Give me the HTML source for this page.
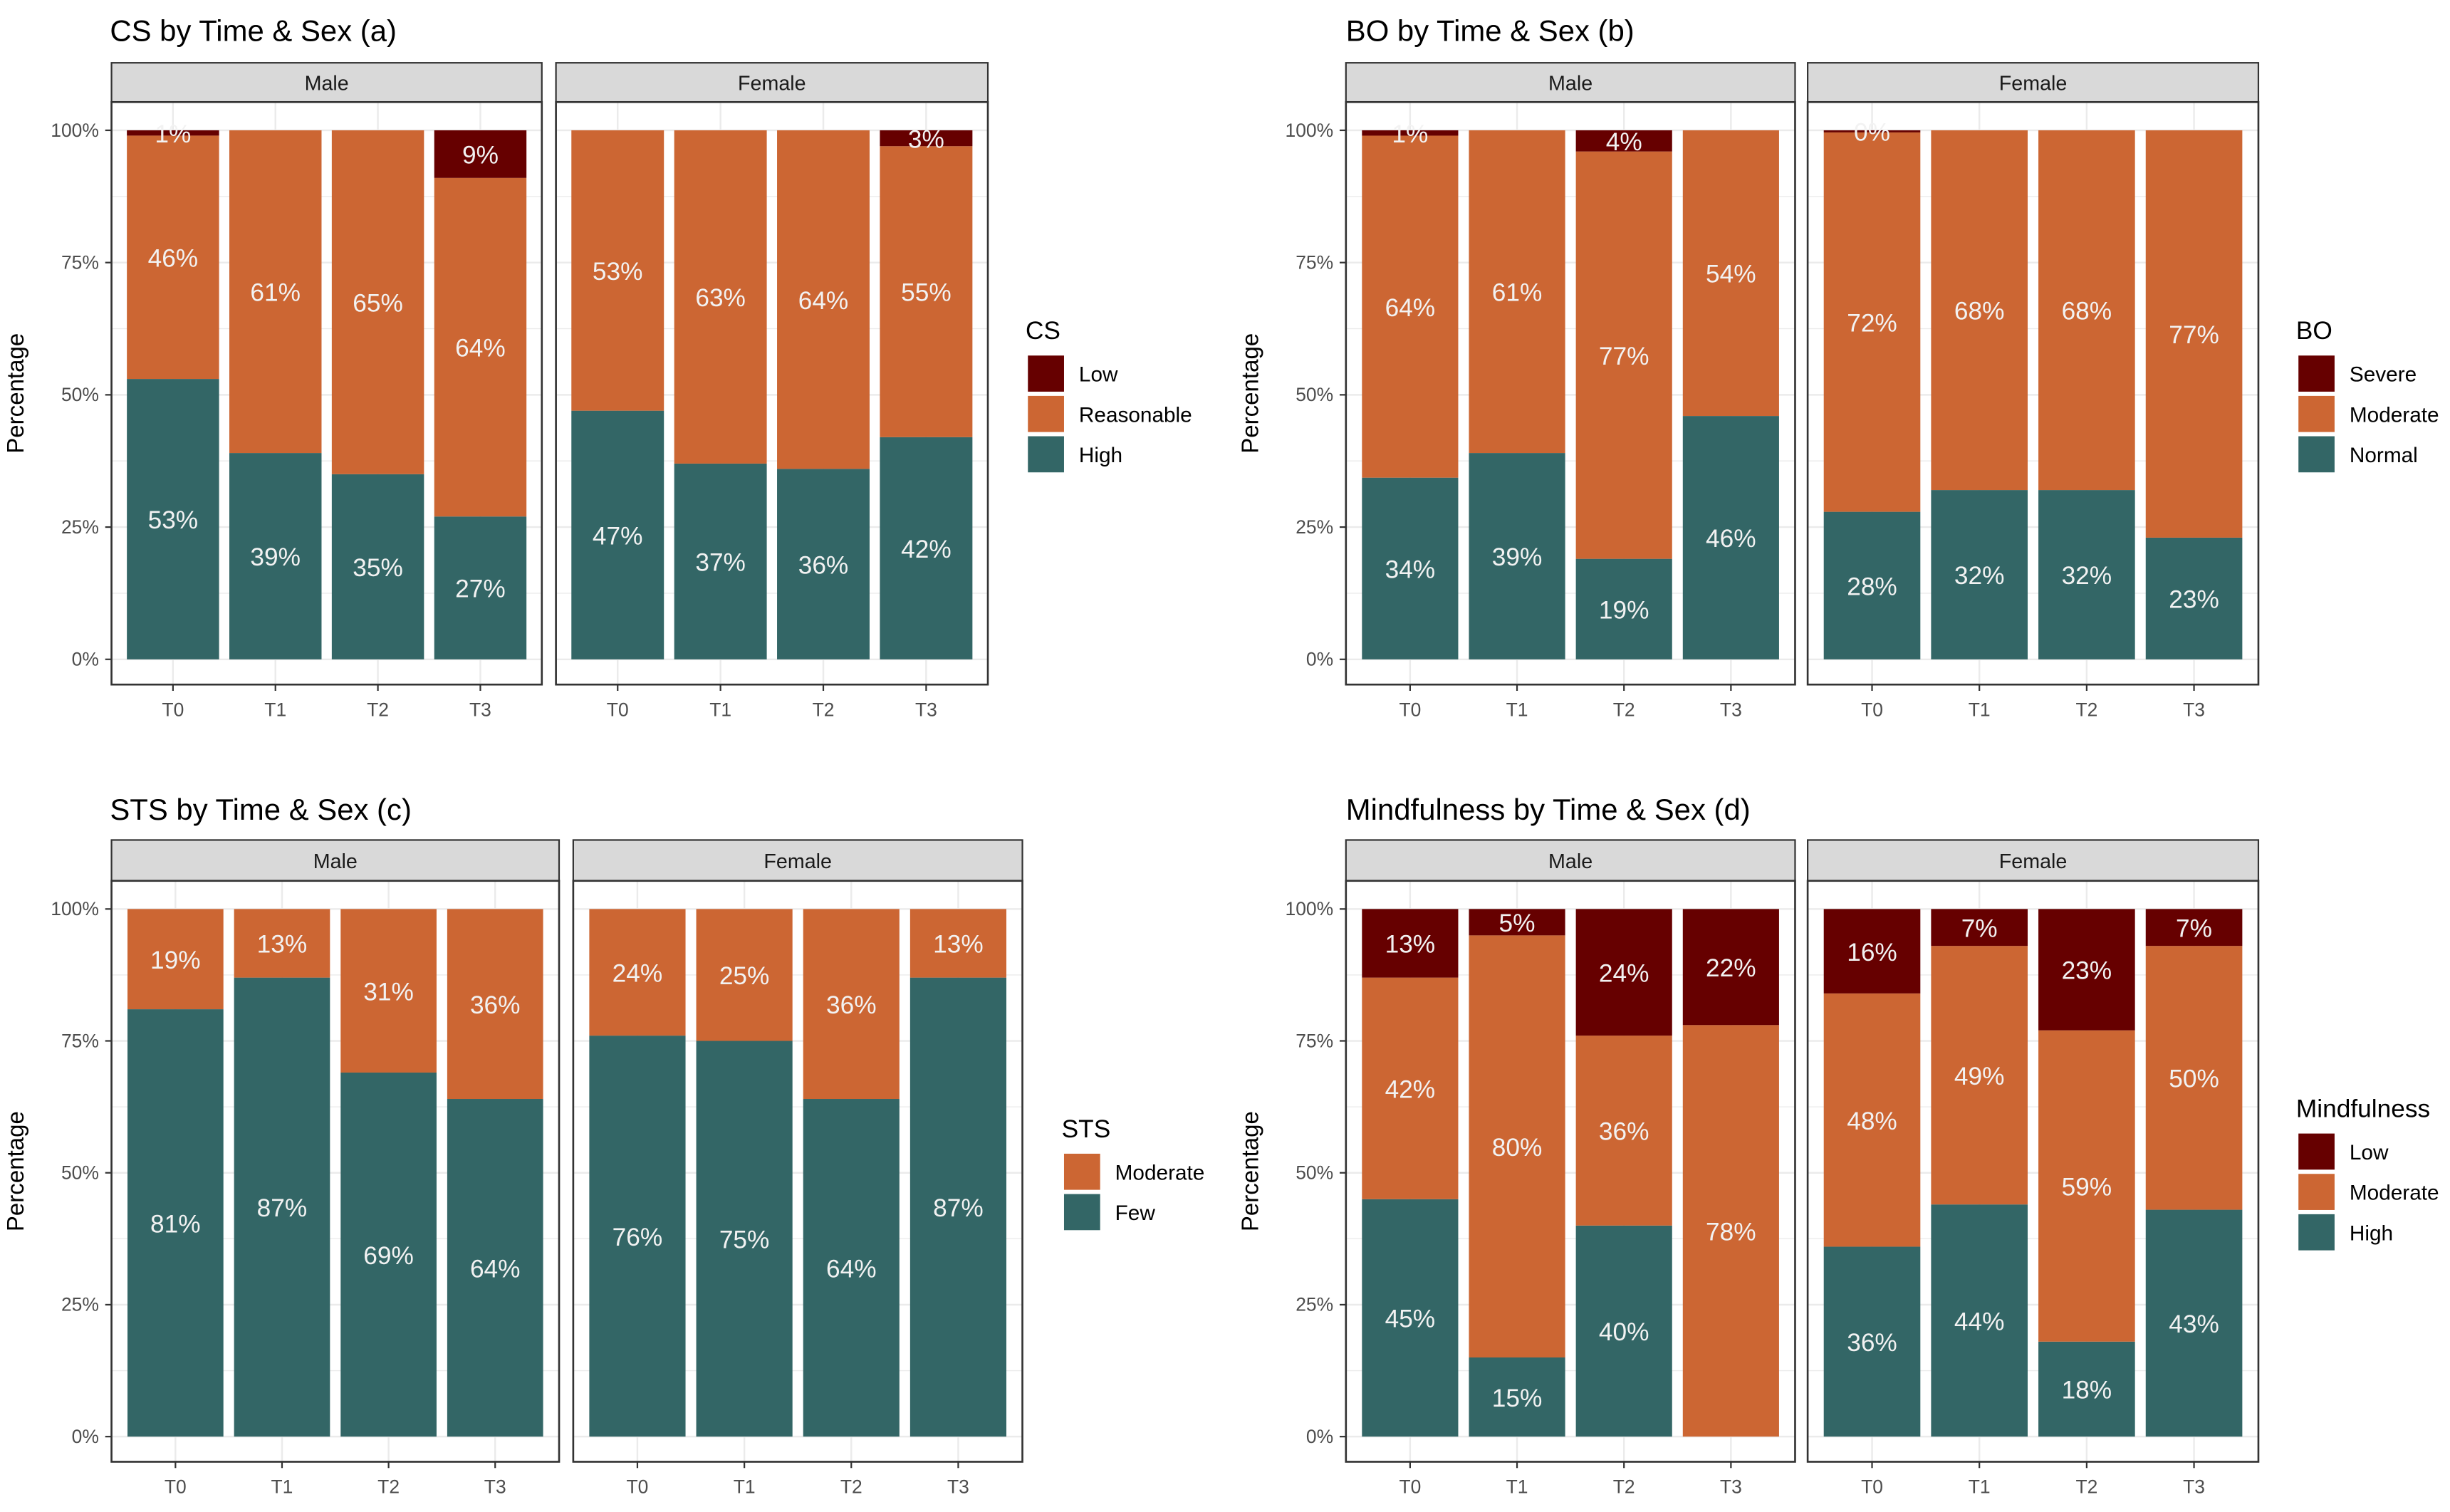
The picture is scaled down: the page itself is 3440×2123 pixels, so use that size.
<!DOCTYPE html>
<html><head><meta charset="utf-8">
<style>
html,body{margin:0;padding:0;background:#fff;}
svg{display:block;font-family:"Liberation Sans Narrow","Liberation Sans",sans-serif;}
</style></head>
<body>
<svg id="chart" width="3440" height="2123" viewBox="0 0 1560 963" preserveAspectRatio="none" xmlns="http://www.w3.org/2000/svg"></svg>
<script>
const categories = ["T0","T1","T2","T3"];
const sexes = ["Male","Female"];
const yTicks = [0,25,50,75,100];
const yTickLabels = ["0%","25%","50%","75%","100%"];
// Panel (a) CS
const csHighMale = [53,39,35,27];
const csReasMale = [46,61,65,64];
const csLowMale = [1,0,0,9];
const csHighFemale = [47,37,36,42];
const csReasFemale = [53,63,64,55];
const csLowFemale = [0,0,0,3];
// Panel (b) BO
const boNormalMale = [34,39,19,46];
const boModMale = [64,61,77,54];
const boSevereMale = [1,0,4,0];
const boNormalFemale = [28,32,32,23];
const boModFemale = [72,68,68,77];
const boSevereFemale = [0.4,0,0,0];
// Panel (c) STS
const stsFewMale = [81,87,69,64];
const stsModMale = [19,13,31,36];
const stsFewFemale = [76,75,64,87];
const stsModFemale = [24,25,36,13];
// Panel (d) Mindfulness
const mfHighMale = [45,15,40,0];
const mfModMale = [42,80,36,78];
const mfLowMale = [13,5,24,22];
const mfHighFemale = [36,44,18,43];
const mfModFemale = [48,49,59,50];
const mfLowFemale = [16,7,23,7];

const C_LOW="#660000", C_MID="#CC6633", C_HIGH="#336666";
const NS="http://www.w3.org/2000/svg";
const svg=document.getElementById('chart');
function mk(tag,attrs,parent,text){
  const e=document.createElementNS(NS,tag);
  for(const k in attrs)e.setAttribute(k,attrs[k]);
  if(text!==undefined)e.textContent=text;
  (parent||svg).appendChild(e);return e;
}

const panels=[
 {id:"cs",title:"CS by Time & Sex (a)",tx:70,ty:26,facets:[[71,345],[354,629]],strip:[40,65],plot:[65,436],yl:15,legX:653,legTitle:"CS",
  series:[{name:"High",col:C_HIGH,data:[csHighMale,csHighFemale]},{name:"Reasonable",col:C_MID,data:[csReasMale,csReasFemale]},{name:"Low",col:C_LOW,data:[csLowMale,csLowFemale]}]},
 {id:"bo",title:"BO by Time & Sex (b)",tx:857,ty:26,facets:[[857,1143],[1151,1438]],strip:[40,65],plot:[65,436],yl:801,legX:1462,legTitle:"BO",
  series:[{name:"Normal",col:C_HIGH,data:[boNormalMale,boNormalFemale]},{name:"Moderate",col:C_MID,data:[boModMale,boModFemale]},{name:"Severe",col:C_LOW,data:[boSevereMale,boSevereFemale]}]},
 {id:"sts",title:"STS by Time & Sex (c)",tx:70,ty:522,facets:[[71,356],[365,651]],strip:[535,561],plot:[561,931],yl:15,legX:676,legTitle:"STS",
  series:[{name:"Few",col:C_HIGH,data:[stsFewMale,stsFewFemale]},{name:"Moderate",col:C_MID,data:[stsModMale,stsModFemale]}]},
 {id:"mf",title:"Mindfulness by Time & Sex (d)",tx:857,ty:522,facets:[[857,1143],[1151,1438]],strip:[535,561],plot:[561,931],yl:801,legX:1462,legTitle:"Mindfulness",
  series:[{name:"High",col:C_HIGH,data:[mfHighMale,mfHighFemale]},{name:"Moderate",col:C_MID,data:[mfModMale,mfModFemale]},{name:"Low",col:C_LOW,data:[mfLowMale,mfLowFemale]}]}
];

panels.forEach(p=>{
  const g=mk('g',{});
  
  
  const t=mk('text',{x:p.tx,y:p.ty,'font-size':19,fill:'#000'},g,p.title);
  
  
  const top=p.plot[0],bot=p.plot[1];
  const span=bot-top;
  const y0=bot-span*0.0433, y100=top+span*0.0485;
  const yScale=v=>y0-(y0-y100)*v/100;
  const cy=(top+bot)/2;
  const yt=mk('text',{x:p.yl,y:cy,'font-size':15,'text-anchor':'middle',transform:`rotate(-90 ${p.yl} ${cy})`,fill:'#000','font-family':'Liberation Sans, sans-serif'},g,'Percentage');
  
  
  const fx0=p.facets[0][0];
  yTicks.forEach((v,i)=>{
    const tl=mk('text',{x:fx0-8,y:yScale(v)+4,'font-size':12,'text-anchor':'end',fill:'#4d4d4d'},g,yTickLabels[i]);
    
    
    mk('line',{x1:fx0-4,x2:fx0,y1:yScale(v),y2:yScale(v),stroke:'#333','stroke-width':1},g);
  });
  p.facets.forEach((f,fi)=>{
    const [L,R]=f;
    const W=R-L, unit=W/4.2;
    const s=mk('rect',{x:L,y:p.strip[0],width:W,height:p.strip[1]-p.strip[0],fill:'#d9d9d9',stroke:'#333','stroke-width':1},g);
    
    
    mk('text',{x:(L+R)/2,y:(p.strip[0]+p.strip[1])/2+5,'font-size':13,'text-anchor':'middle',fill:'#1a1a1a'},g,sexes[fi]);
    for(let v=0;v<=100;v+=12.5){
      mk('line',{x1:L,x2:R,y1:yScale(v),y2:yScale(v),stroke:'#ebebeb','stroke-width':v%25===0?1.1:0.6},g);
    }
    categories.forEach((c,ci)=>{
      const cx=L+unit*(0.6+ci);
      mk('line',{x1:cx,x2:cx,y1:top,y2:bot,stroke:'#ebebeb','stroke-width':1.1},g);
    });
    categories.forEach((c,ci)=>{
      const cx=L+unit*(0.6+ci), bw=unit*0.9;
      let total=0;
      p.series.forEach(se=>{total+=Math.max(0,se.data[fi][ci]);});
      let cum=0;
      p.series.forEach(se=>{
        const v=se.data[fi][ci];
        if(v<=0)return;
        const ya=yScale(cum/total*100), yb=yScale((cum+v)/total*100);
        const r=mk('rect',{x:cx-bw/2,y:yb,width:bw,height:ya-yb,fill:se.col},g);
        
        
        const lab=mk('text',{x:cx,y:(ya+yb)/2+6,'font-size':16,'text-anchor':'middle',fill:'#f2f2f2'},g,Math.round(v)+'%');
        
        
        cum+=v;
      });
      mk('line',{x1:cx,x2:cx,y1:bot,y2:bot+4,stroke:'#333','stroke-width':1},g);
      const xl=mk('text',{x:cx,y:bot+20,'font-size':12,'text-anchor':'middle',fill:'#4d4d4d'},g,c);
      
      
    });
    mk('rect',{x:L,y:top,width:W,height:span,fill:'none',stroke:'#333','stroke-width':1.2},g);
  });
  const n=p.series.length;
  const legH=n*25.7;
  const legTop=(top+bot)/2-legH/2+14;
  const lt=mk('text',{x:p.legX,y:legTop-10,'font-size':16,fill:'#000'},g,p.legTitle);
  
  
  p.series.slice().reverse().forEach((se,i)=>{
    const yy=legTop+i*25.7;
    const lg=mk('g',{},g);
    
    
    mk('rect',{x:p.legX+1,y:yy,width:24,height:24,fill:se.col,stroke:'#fff','stroke-width':1},lg);
    mk('text',{x:p.legX+34,y:yy+17,'font-size':13.5,fill:'#000'},lg,se.name);
  });
});
</script>
</body></html>
